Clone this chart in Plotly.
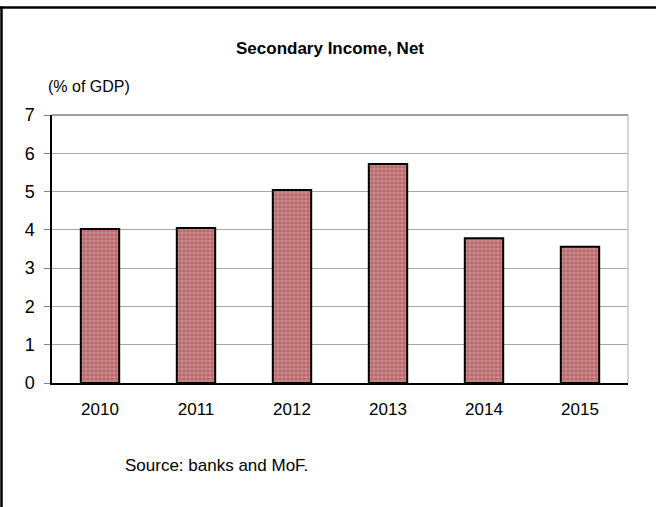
import plotly.graph_objects as go

years = ["2010", "2011", "2012", "2013", "2014", "2015"]
values = [4.02, 4.05, 5.04, 5.72, 3.78, 3.56]
y_ticks = [0, 1, 2, 3, 4, 5, 6, 7]

W, H = 656, 507
L, R, T, B = 52, 28, 115, 124
pw, ph = W - L - R, H - T - B

def px_x(x):
    return (x - L) / pw

def px_y(y):
    return (H - B - y) / ph

fig = go.Figure()
fig.add_trace(go.Bar(
    x=years, y=values, width=0.4,
    marker=dict(
        color="#bd7072",
        line=dict(color="black", width=2),
        pattern=dict(shape="+", fgcolor="#f0d8d8", bgcolor="#b86668", size=4, solidity=0.35),
    ),
    showlegend=False,
))

fig.update_layout(
    width=W, height=H,
    margin=dict(l=L, r=R, t=T, b=B),
    paper_bgcolor="white", plot_bgcolor="white",
    font=dict(family="Liberation Sans, Arial", color="black"),
    xaxis=dict(
        showgrid=False, showline=True, linecolor="black", linewidth=1.5,
        ticks="", tickfont=dict(size=17), ticklabelstandoff=10,
        mirror=False,
    ),
    yaxis=dict(
        range=[0, 7], tickvals=y_ticks, showgrid=True, gridcolor="#a8a8a8", gridwidth=1,
        showline=True, linecolor="black", linewidth=1.5,
        ticks="outside", ticklen=6, tickcolor="#808080",
        tickfont=dict(size=18), ticklabelstandoff=6, zeroline=False,
    ),
    shapes=[
        dict(type="line", xref="paper", yref="paper", x0=1, x1=1, y0=0, y1=1,
             line=dict(color="#c8c8c8", width=1.5)),
        dict(type="line", xref="paper", yref="paper", x0=0, x1=1, y0=1, y1=1,
             line=dict(color="#808080", width=1.5)),
        dict(type="line", xref="paper", yref="paper", x0=px_x(0), x1=px_x(W), y0=px_y(7.5), y1=px_y(7.5),
             line=dict(color="black", width=2.5)),
        dict(type="line", xref="paper", yref="paper", x0=px_x(1.5), x1=px_x(1.5), y0=px_y(6.5), y1=px_y(H),
             line=dict(color="black", width=2.5)),
    ],
    annotations=[
        dict(text="<b>Secondary Income, Net</b>", xref="paper", yref="paper",
             x=px_x(330), y=px_y(48), showarrow=False, font=dict(size=17),
             xanchor="center", yanchor="middle"),
        dict(text="(% of GDP)", xref="paper", yref="paper",
             x=px_x(46), y=px_y(87), showarrow=False, font=dict(size=16),
             xanchor="left", yanchor="middle"),
        dict(text="Source: banks and MoF.", xref="paper", yref="paper",
             x=px_x(123), y=px_y(465), showarrow=False, font=dict(size=17),
             xanchor="left", yanchor="middle"),
    ],
)

fig.write_html("out.html")
